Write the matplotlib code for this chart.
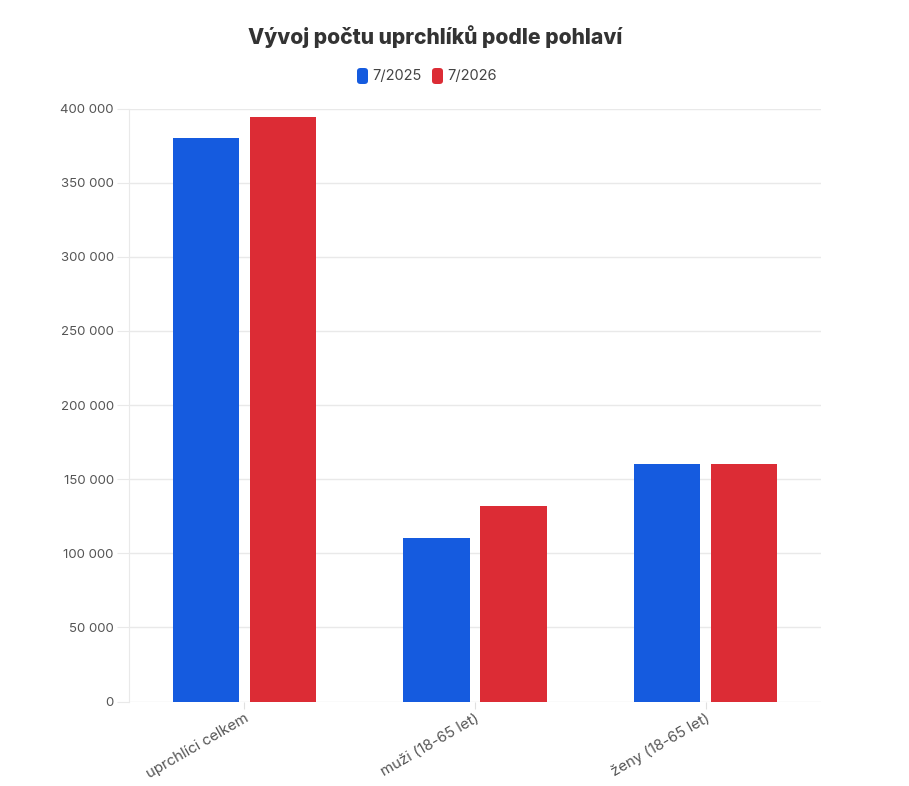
import matplotlib.pyplot as plt
import numpy as np
from matplotlib.patches import FancyBboxPatch
from matplotlib.ticker import FuncFormatter

plt.rcParams['font.family'] = ['Inter', 'DejaVu Sans']

categories = ['uprchlíci celkem', 'muži (18-65 let)', 'ženy (18-65 let)']
series_names = ['7/2025', '7/2026']
values_2025 = [380000, 110500, 160500]
values_2026 = [394500, 132000, 160000]
colors = ['#155bdf', '#dc2c35']

fig = plt.figure(figsize=(9.09, 7.86), dpi=100)
ax = fig.add_axes([129 / 909, 1 - 701.5 / 786, (821 - 129) / 909, (701.5 - 108.5) / 786])

x = np.arange(len(categories))
width = 0.2875
off = 0.1668
ax.bar(x - off, values_2025, width, color=colors[0], zorder=3)
ax.bar(x + off, values_2026, width, color=colors[1], zorder=3)

ax.set_xlim(-0.5, 2.5)
ax.set_ylim(0, 400000)
ax.set_yticks(np.arange(0, 400001, 50000))
ax.yaxis.set_major_formatter(FuncFormatter(lambda v, p: f'{int(v):,}'.replace(',', ' ')))
ax.grid(axis='y', color='#e9e9e9', linewidth=1, zorder=0)
for s in ['top', 'right', 'bottom']:
    ax.spines[s].set_visible(False)
ax.spines['left'].set_color('#e9e9e9')
ax.tick_params(axis='y', length=9, color='#e9e9e9', labelsize=9.5, labelcolor='#555555', pad=2)
ax.tick_params(axis='x', length=5, color='#e0e0e0', labelsize=10.8, labelcolor='#555555', pad=2)
ax.set_xticks(x)
ax.set_xticklabels(categories, rotation=30, ha='right', rotation_mode='anchor')

fig.text(435 / 909, 1 - 37 / 786, 'Vývoj počtu uprchlíků podle pohlaví', ha='center', va='center',
         fontsize=15.2, fontweight='heavy', color='#333333')

# legend
legend_x = [357, 432]
for lx, name, c in zip(legend_x, series_names, colors):
    fig.patches.append(FancyBboxPatch((lx / 909, 1 - 84 / 786), 11 / 909, 16 / 786,
                                      boxstyle='round,pad=0,rounding_size=0.004',
                                      transform=fig.transFigure, facecolor=c, edgecolor='none'))
    fig.text((lx + 15) / 909, 1 - 76 / 786, name, ha='left', va='center', fontsize=10.5, color='#444444')

fig.savefig('out.png', dpi=100)
